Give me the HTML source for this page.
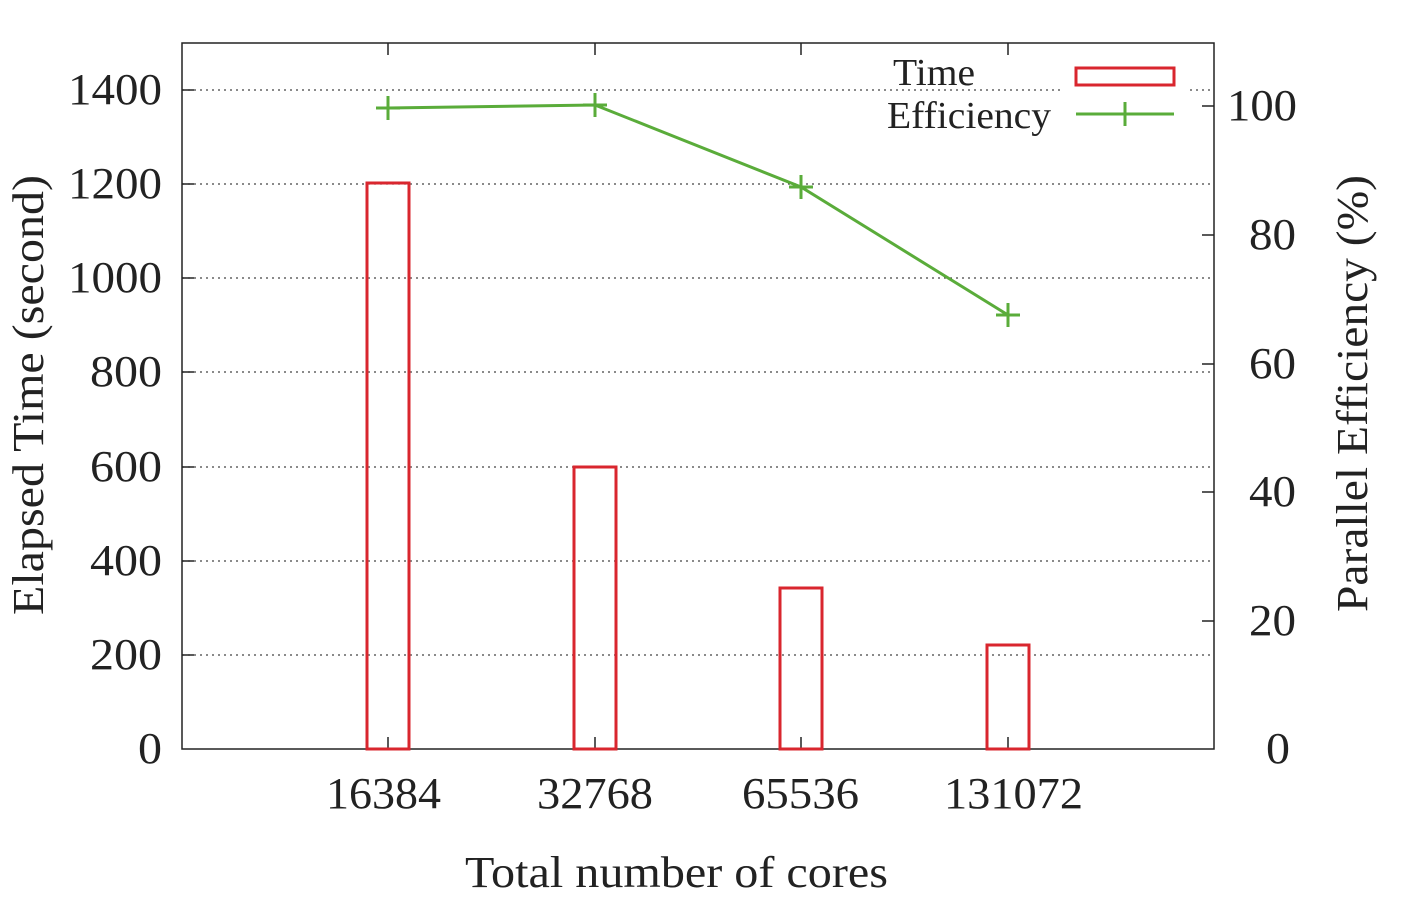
<!DOCTYPE html>
<html><head><meta charset="utf-8"><style>body{margin:0;background:#fff}</style></head><body>
<svg width="1402" height="909" xmlns="http://www.w3.org/2000/svg" font-family="Liberation Serif, serif" fill="#222">
<g stroke="#444" stroke-width="1.2" stroke-dasharray="2,4">
<line x1="182" y1="655" x2="1214" y2="655"/><line x1="182" y1="561" x2="1214" y2="561"/>
<line x1="182" y1="467" x2="1214" y2="467"/><line x1="182" y1="372" x2="1214" y2="372"/>
<line x1="182" y1="278" x2="1214" y2="278"/><line x1="182" y1="184" x2="1214" y2="184"/>
<line x1="182" y1="90" x2="1060" y2="90"/><line x1="1190" y1="90" x2="1214" y2="90"/>
</g>
<rect x="182" y="43" width="1032" height="706" fill="none" stroke="#222" stroke-width="1.5"/>
<g stroke="#222" stroke-width="1.5">
<line x1="182" y1="655" x2="194" y2="655"/><line x1="182" y1="561" x2="194" y2="561"/><line x1="182" y1="467" x2="194" y2="467"/><line x1="182" y1="372" x2="194" y2="372"/><line x1="182" y1="278" x2="194" y2="278"/><line x1="182" y1="184" x2="194" y2="184"/><line x1="182" y1="90" x2="194" y2="90"/>
<line x1="1202" y1="106" x2="1214" y2="106"/><line x1="1202" y1="235" x2="1214" y2="235"/><line x1="1202" y1="364" x2="1214" y2="364"/><line x1="1202" y1="492" x2="1214" y2="492"/><line x1="1202" y1="621" x2="1214" y2="621"/>
<line x1="388" y1="43" x2="388" y2="55"/><line x1="595" y1="43" x2="595" y2="55"/><line x1="801" y1="43" x2="801" y2="55"/><line x1="1008" y1="43" x2="1008" y2="55"/>
<line x1="388" y1="749" x2="388" y2="737"/><line x1="595" y1="749" x2="595" y2="737"/><line x1="801" y1="749" x2="801" y2="737"/><line x1="1008" y1="749" x2="1008" y2="737"/>
</g>
<g fill="none" stroke="#d9262e" stroke-width="3">
<rect x="367" y="183" width="42" height="566"/><rect x="574" y="467" width="42" height="282"/>
<rect x="780" y="588" width="42" height="161"/><rect x="987" y="645" width="42" height="104"/>
<rect x="1076" y="68" width="98" height="17"/>
</g>
<g stroke="#5aac3a" stroke-width="3" fill="none">
<polyline points="388,108 595,105 801,187 1008,315"/>
<path d="M376,108h24M388,96v24M583,105h24M595,93v24M789,187h24M801,175v24M996,315h24M1008,303v24"/>
<line x1="1076" y1="114" x2="1174" y2="114"/><path d="M1113,114h24M1125,102v24"/>
</g>
<g font-size="44">
<text x="138" y="763" textLength="24" lengthAdjust="spacingAndGlyphs">0</text>
<text x="90" y="669" textLength="72" lengthAdjust="spacingAndGlyphs">200</text>
<text x="90" y="575" textLength="72" lengthAdjust="spacingAndGlyphs">400</text>
<text x="90" y="481" textLength="72" lengthAdjust="spacingAndGlyphs">600</text>
<text x="90" y="386" textLength="72" lengthAdjust="spacingAndGlyphs">800</text>
<text x="68" y="292" textLength="94" lengthAdjust="spacingAndGlyphs">1000</text>
<text x="68" y="198" textLength="94" lengthAdjust="spacingAndGlyphs">1200</text>
<text x="68" y="104" textLength="94" lengthAdjust="spacingAndGlyphs">1400</text>
<text x="1266" y="763" textLength="24" lengthAdjust="spacingAndGlyphs">0</text>
<text x="1249" y="635" textLength="47" lengthAdjust="spacingAndGlyphs">20</text>
<text x="1249" y="506" textLength="47" lengthAdjust="spacingAndGlyphs">40</text>
<text x="1249" y="378" textLength="47" lengthAdjust="spacingAndGlyphs">60</text>
<text x="1249" y="249" textLength="47" lengthAdjust="spacingAndGlyphs">80</text>
<text x="1227" y="120" textLength="70" lengthAdjust="spacingAndGlyphs">100</text>
<text x="326" y="808" textLength="115" lengthAdjust="spacingAndGlyphs">16384</text>
<text x="537" y="808" textLength="116" lengthAdjust="spacingAndGlyphs">32768</text>
<text x="742" y="808" textLength="117" lengthAdjust="spacingAndGlyphs">65536</text>
<text x="944" y="808" textLength="139" lengthAdjust="spacingAndGlyphs">131072</text>
<text x="465" y="887" textLength="423" lengthAdjust="spacingAndGlyphs">Total number of cores</text>
<text transform="translate(43,615) rotate(-90)" textLength="440" lengthAdjust="spacingAndGlyphs">Elapsed Time (second)</text>
<text transform="translate(1367,612) rotate(-90)" textLength="437" lengthAdjust="spacingAndGlyphs">Parallel Efficiency (%)</text>
</g>
<text x="893" y="85" font-size="38" textLength="82" lengthAdjust="spacingAndGlyphs">Time</text>
<text x="887" y="128" font-size="38" textLength="164" lengthAdjust="spacingAndGlyphs">Efficiency</text>
</svg>
</body></html>
